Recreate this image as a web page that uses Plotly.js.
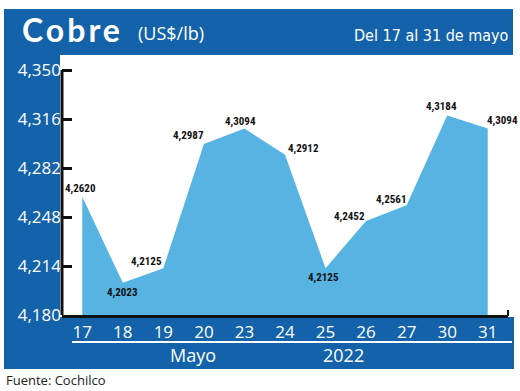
<!DOCTYPE html>
<html>
<head>
<meta charset="utf-8">
<script src="https://cdn.plot.ly/plotly-3.0.1.min.js"></script>
<style>html,body{margin:0;padding:0;background:#fff;}#chart{width:520px;height:391px;}</style>
</head>
<body>
<div id="chart"></div>
<script>
// Data
const days = ['17','18','19','20','23','24','25','26','27','30','31'];
const prices = [4.2620, 4.2023, 4.2125, 4.2987, 4.3094, 4.2912, 4.2125, 4.2452, 4.2561, 4.3184, 4.3094];
const priceLabels = ['4,2620','4,2023','4,2125','4,2987','4,3094','4,2912','4,2125','4,2452','4,2561','4,3184','4,3094'];
const yTicks = [4.180, 4.214, 4.248, 4.282, 4.316, 4.350];
const yTickText = ['4,180','4,214','4,248','4,282','4,316','4,350'];

// label placement (style only): [xanchor, yanchor, xshift, yshift]
const labelPlace = [
  ['center','bottom',-2, 0],
  ['center','top',    0,-1],
  ['right', 'bottom', 1,-2],
  ['right', 'bottom', 2, 0],
  ['center','bottom',-4,-1],
  ['left',  'bottom', 1,-2],
  ['center','top',   -2,-1],
  ['right', 'bottom', 1,-4],
  ['right', 'bottom', 2,-3],
  ['center','bottom',-6, 1],
  ['left',  'bottom',-3, 0]
];

const FRAME = '#1463aa';
const AREA = '#56b3e2';
const LABEL_FONT = {family: '"Roboto Condensed", "DejaVu Sans Condensed", sans-serif', size: 11, color: '#111', weight: 'bold'};

// plot area in pixels: x 62..508, y 55..315
const L = 62, R = 508, T = 55, B = 315;
const px = v => (v - L) / (R - L);
const py = v => (B - v) / (B - T);

const trace = {
  x: days, y: prices, type: 'scatter', mode: 'lines',
  fill: 'tozeroy', fillcolor: AREA,
  line: {width: 0, color: AREA},
  hoverinfo: 'skip'
};

const valueAnnotations = prices.map((p, i) => ({
  xref: 'x', yref: 'y', x: i, y: p, text: priceLabels[i], showarrow: false,
  xanchor: labelPlace[i][0], yanchor: labelPlace[i][1],
  xshift: labelPlace[i][2], yshift: labelPlace[i][3],
  font: LABEL_FONT
}));

const layout = {
  width: 520, height: 391,
  margin: {l: L, r: 520 - R, t: T, b: 391 - B},
  paper_bgcolor: '#ffffff', plot_bgcolor: '#ffffff',
  showlegend: false,
  separators: ',.',
  font: {family: '"Open Sans", sans-serif'},
  xaxis: {
    type: 'category', range: [-0.5, 10.5],
    showgrid: false, zeroline: false,
    showline: true, linecolor: '#111', linewidth: 3,
    ticks: '', tickfont: {size: 17, color: '#ffffff', family: '"Open Sans", sans-serif'},
    fixedrange: true
  },
  yaxis: {
    range: [4.18, 4.18 + 0.17 * 260 / 245],
    tickvals: yTicks, ticktext: yTickText,
    showgrid: false, zeroline: false, showline: false,
    ticks: 'inside', ticklen: 10, tickwidth: 3, tickcolor: '#111',
    tickfont: {size: 17, color: '#ffffff', family: '"Open Sans", sans-serif'},
    fixedrange: true
  },
  shapes: [
    {type: 'rect', xref: 'paper', yref: 'paper', x0: px(4), x1: px(513), y0: py(55), y1: py(9), fillcolor: FRAME, line: {width: 0}, layer: 'below'},
    {type: 'rect', xref: 'paper', yref: 'paper', x0: px(4), x1: px(60), y0: py(369), y1: py(9), fillcolor: FRAME, line: {width: 0}, layer: 'below'},
    {type: 'rect', xref: 'paper', yref: 'paper', x0: px(4), x1: px(514), y0: py(369), y1: py(317), fillcolor: FRAME, line: {width: 0}, layer: 'below'},
    {type: 'line', xref: 'paper', yref: 'paper', x0: px(72), x1: px(512), y0: py(342), y1: py(342), line: {color: '#ffffff', width: 2}},
    {type: 'line', xref: 'paper', yref: 'y', x0: 0, x1: 0, y0: 4.176, y1: 4.35, line: {color: '#111', width: 3}},
    {type: 'line', xref: 'paper', yref: 'paper', x0: px(508), x1: px(508), y0: py(316), y1: py(310), line: {color: '#111', width: 2}}
  ],
  annotations: [
    {xref: 'paper', yref: 'paper', x: px(20), y: py(30), xanchor: 'left', yanchor: 'middle', showarrow: false,
     text: '<span style="letter-spacing:3px">Cobre</span>', font: {family: 'Lato, "Open Sans", sans-serif', size: 32, color: '#ffffff', weight: 'bold'}},
    {xref: 'paper', yref: 'paper', x: px(136), y: py(33), xanchor: 'left', yanchor: 'middle', showarrow: false,
     text: '(US$/lb)', font: {family: '"Open Sans", sans-serif', size: 18, color: '#ffffff'}},
    {xref: 'paper', yref: 'paper', x: px(511), y: py(35), xanchor: 'right', yanchor: 'middle', showarrow: false,
     text: 'Del 17 al 31 de mayo', font: {family: '"DejaVu Sans Condensed", sans-serif', size: 16, color: '#ffffff'}},
    {xref: 'paper', yref: 'paper', x: px(193), y: py(355), xanchor: 'center', yanchor: 'middle', showarrow: false,
     text: 'Mayo', font: {family: '"Open Sans", sans-serif', size: 18, color: '#ffffff'}},
    {xref: 'paper', yref: 'paper', x: px(343), y: py(355), xanchor: 'center', yanchor: 'middle', showarrow: false,
     text: '2022', font: {family: '"Open Sans", sans-serif', size: 18, color: '#ffffff'}},
    {xref: 'paper', yref: 'paper', x: px(4), y: py(380), xanchor: 'left', yanchor: 'middle', showarrow: false,
     text: 'Fuente: Cochilco', font: {family: '"Open Sans", sans-serif', size: 13, color: '#222'}}
  ].concat(valueAnnotations)
};

Plotly.newPlot('chart', [trace], layout, {staticPlot: true, displayModeBar: false});
</script>
</body>
</html>
